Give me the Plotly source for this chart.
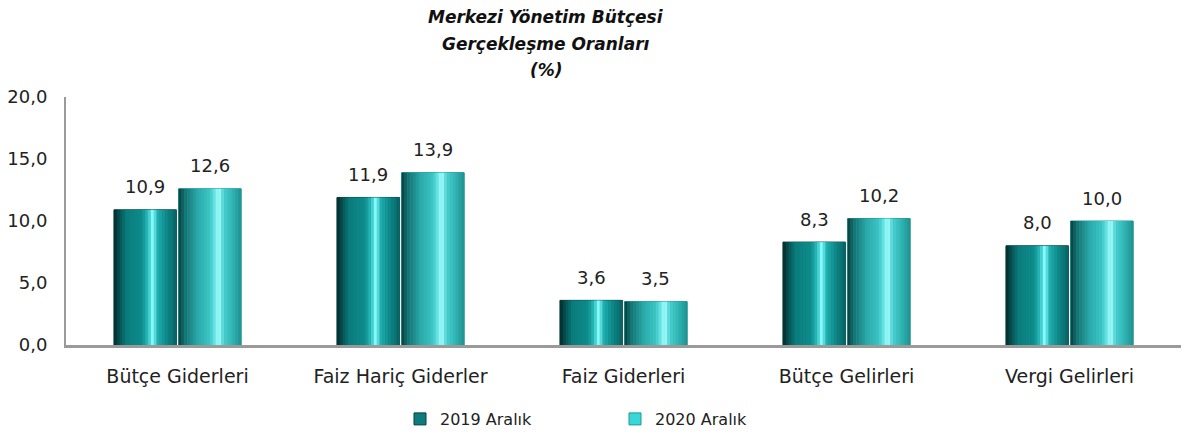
import plotly.graph_objects as go

categories = ["Bütçe Giderleri", "Faiz Hariç Giderler", "Faiz Giderleri", "Bütçe Gelirleri", "Vergi Gelirleri"]
series_names = ["2019 Aralık", "2020 Aralık"]
values_2019 = [10.9, 11.9, 3.6, 8.3, 8.0]
values_2020 = [12.6, 13.9, 3.5, 10.2, 10.0]
title_lines = ["Merkezi Yönetim Bütçesi", "Gerçekleşme Oranları", "(%)"]

FONT = "DejaVu Sans"

# cylinder shading stops (style only)
stops_2019 = [(0.0, "#032828"), (0.08, "#064e4e"), (0.2, "#0a7c7c"), (0.45, "#0e8c8c"),
              (0.55, "#2cc0c0"), (0.62, "#8effff"), (0.7, "#20b0b0"), (0.85, "#0d8585"),
              (0.95, "#0a7070"), (1.0, "#0a5e5e")]
stops_2020 = [(0.0, "#083c3c"), (0.1, "#157272"), (0.3, "#2aa8a8"), (0.5, "#3cc4c4"),
              (0.58, "#6ae6e6"), (0.64, "#b0ffff"), (0.72, "#48d0d0"), (0.88, "#2eb0b0"),
              (1.0, "#208e8e")]


def hex2rgb(h):
    h = h.lstrip("#")
    return tuple(int(h[i:i + 2], 16) for i in (0, 2, 4))


def interp(stops, t):
    for (p0, c0), (p1, c1) in zip(stops[:-1], stops[1:]):
        if p0 <= t <= p1:
            f = 0 if p1 == p0 else (t - p0) / (p1 - p0)
            a, b = hex2rgb(c0), hex2rgb(c1)
            return "rgb(%d,%d,%d)" % tuple(round(a[i] + (b[i] - a[i]) * f) for i in range(3))
    return stops[-1][1]


W, H = 1185, 434
M_L, M_R, M_T, M_B = 66, 4, 97, 89
PLOT_W = W - M_L - M_R
PLOT_H = H - M_T - M_B
CAT_PX = PLOT_W / len(categories)

BAR_W = 0.28
OFFSETS = [-0.285, 0.005]
LEGEND_COLORS = ["#0e7c7c", "#38d8d8"]
LEGEND_LINES = ["#064040", "#1a9a9a"]
N = 22

fig = go.Figure()
for s, (name, vals, stops) in enumerate(zip(series_names, [values_2019, values_2020], [stops_2019, stops_2020])):
    fig.add_trace(go.Bar(
        x=categories, y=vals, name=name, width=BAR_W, offset=OFFSETS[s],
        marker=dict(color=LEGEND_COLORS[s], line=dict(color=LEGEND_LINES[s], width=1)),
        hoverinfo="skip",
    ))
    sw = BAR_W / N
    for i in range(N):
        t = (i + 0.5) / N
        fig.add_trace(go.Bar(
            x=categories, y=vals, width=sw * 1.15, offset=OFFSETS[s] + i * sw,
            marker=dict(color=interp(stops, t), line=dict(width=0)),
            showlegend=False, hoverinfo="skip",
        ))
    # value labels above bars
    xshift = (OFFSETS[s] + BAR_W / 2) * CAT_PX
    for c, v in zip(categories, vals):
        fig.add_annotation(
            x=c, y=v, xref="x", yref="y", text=f"{v:.1f}".replace(".", ","),
            showarrow=False, xshift=xshift, yshift=23, yanchor="middle",
            font=dict(family=FONT, size=18, color="#222222"),
        )

# title lines as annotations
title_y = [17, 44, 70]
for line, ypx in zip(title_lines, title_y):
    fig.add_annotation(
        text=line, xref="paper", yref="paper",
        x=(546 - M_L) / PLOT_W, y=(H - M_B - ypx) / PLOT_H, xanchor="center", yanchor="middle",
        showarrow=False,
        font=dict(family=FONT, size=17, color="#111111", weight="bold", style="italic"),
    )

fig.update_layout(
    width=W, height=H,
    barmode="overlay",
    separators=",.",
    paper_bgcolor="white", plot_bgcolor="white",
    margin=dict(l=M_L, r=M_R, t=M_T, b=M_B, autoexpand=False),
    font=dict(family=FONT, size=18, color="#222222"),
    showlegend=True,
    legend=dict(orientation="h", x=(400 - M_L) / PLOT_W, y=(H - M_B - 419) / PLOT_H,
                xanchor="left", yanchor="middle",
                entrywidth=170, entrywidthmode="pixels",
                font=dict(family=FONT, size=16, color="#222222"), itemwidth=30),
    xaxis=dict(showline=True, linecolor="#9a9a9a", linewidth=2.5, showgrid=False, automargin=False,
               ticks="", ticklabelstandoff=12, tickfont=dict(size=19)),
    yaxis=dict(range=[0, 20], dtick=5, tickformat=".1f", showline=True, linecolor="#9a9a9a",
               linewidth=2, showgrid=False, zeroline=False, ticks="", ticklabelstandoff=13,
               automargin=False, tickfont=dict(size=18)),
)

fig.write_html("out.html", config={"displayModeBar": False},
               post_script="document.body.style.margin='0';document.body.style.overflow='hidden';")
